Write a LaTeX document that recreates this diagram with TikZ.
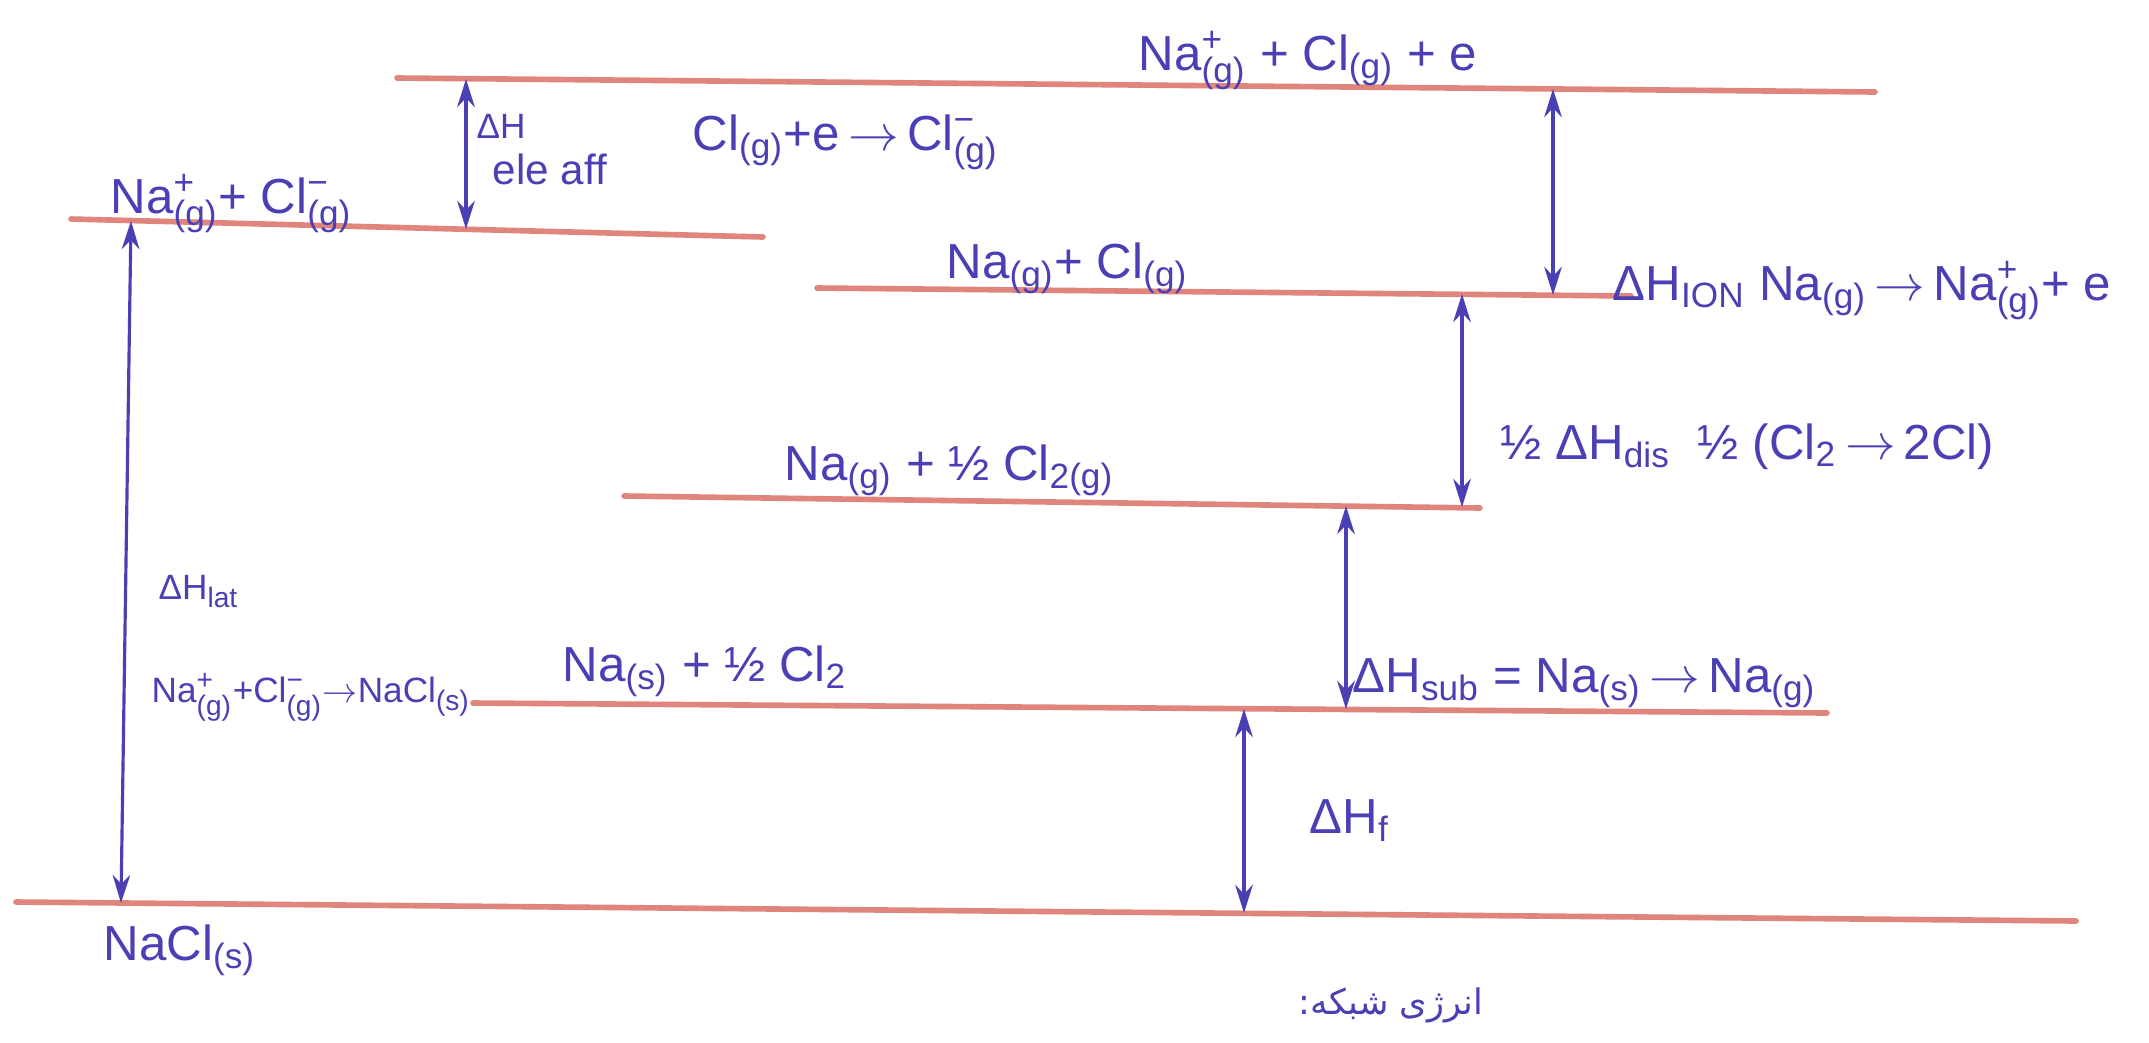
\documentclass[tikz,border=0pt]{standalone}
\usepackage{fontspec}
\setmainfont{Liberation Sans}
\newfontfamily\arabicfont[Script=Arabic]{DejaVu Sans}
\TeXXeTstate=1
\usetikzlibrary{arrows.meta}
\definecolor{ink}{HTML}{4B3FB5}
\definecolor{lvl}{HTML}{E0857C}
\newcommand\ion[2]{$^{\hbox{\fontsize{10}{10}\selectfont #1}}_{\hbox{\fontsize{10}{10}\selectfont #2}}$}
\newcommand\lo[1]{$_{\hbox{\fontsize{10}{10}\selectfont #1}}$}
\newcommand\sion[2]{$^{\hbox{\fontsize{8}{8}\selectfont #1}}_{\hbox{\fontsize{8}{8}\selectfont #2}}$}
\newcommand\slo[1]{$_{\hbox{\fontsize{8}{8}\selectfont #1}}$}
\newcommand\ra{\,$\rightarrow$\,}
\tikzset{
  level/.style={draw=lvl, line width=1.6pt, line cap=round},
  dh/.style={draw=ink, line width=0.9pt, {Stealth[length=8pt,width=5pt]}-{Stealth[length=8pt,width=5pt]}},
  lab/.style={text=ink, font=\fontsize{14}{16}\selectfont, inner sep=0pt, anchor=base west},
  slab/.style={text=ink, font=\fontsize{10}{12}\selectfont, inner sep=0pt, anchor=base west}
}
\begin{document}
\begin{tikzpicture}[x=0.01cm,y=-0.01cm]
\useasboundingbox (0,0) rectangle (2149,1042);
\fill[white] (0,0) rectangle (2149,1042);
% energy levels
\coordinate (A1) at (397,78);  \coordinate (A2) at (1875,92);
\coordinate (B1) at (71,219);  \coordinate (B2) at (763,237);
\coordinate (C1) at (817,288); \coordinate (C2) at (1631,296);
\coordinate (D1) at (624,496); \coordinate (D2) at (1480,508);
\coordinate (E1) at (473,703); \coordinate (E2) at (1827,713);
\coordinate (F1) at (16,902);  \coordinate (F2) at (2076,921);
\draw[level] (A1) -- (A2);
\draw[level] (B1) -- (B2);
\draw[level] (C1) -- (C2);
\draw[level] (D1) -- (D2);
\draw[level] (E1) -- (E2);
\draw[level] (F1) -- (F2);
% arrow end points
\coordinate (eaT) at (466,79);   \coordinate (eaB) at (466,229);
\coordinate (ioT) at (1553,89);  \coordinate (ioB) at (1553,295);
\coordinate (diT) at (1462,294); \coordinate (diB) at (1462,507);
\coordinate (suT) at (1346,506); \coordinate (suB) at (1346,709);
\coordinate (fT) at (1244,709);  \coordinate (fB) at (1244,913);
\coordinate (laT) at (131,221);  \coordinate (laB) at (121,903);
\draw[dh] (eaT) -- (eaB);
\draw[dh] (ioT) -- (ioB);
\draw[dh] (diT) -- (diB);
\draw[dh] (suT) -- (suB);
\draw[dh] (fT) -- (fB);
\draw[dh] (laT) -- (laB);
% labels
\node[lab] (lA) at (1138,70) {Na\ion{+}{(g)} + Cl\lo{(g)} + e};
\node[lab] (lB) at (110,213) {Na\ion{+}{(g)}+ Cl\ion{\textminus}{(g)}};
\node[slab] (lea) at (476,138) {ΔH};
\node[text=ink, font=\fontsize{12}{14}\selectfont, inner sep=0pt, anchor=base west] (leas) at (492,184) {ele aff};
\node[lab] (lear) at (692,150) {Cl\lo{(g)}+e\ra Cl\ion{\textminus}{(g)}};
\node[lab] (lC) at (946,278) {Na\lo{(g)}+ Cl\lo{(g)}};
\node[lab] (lio) at (1612,300) {ΔH\lo{ION}\;Na\lo{(g)}\ra Na\ion{+}{(g)}+ e};
\node[lab] (ldi) at (1500,459) {½ ΔH\lo{dis}\; ½ (Cl\lo{2}\ra 2Cl)};
\node[lab] (lD) at (784,480) {Na\lo{(g)} + ½ Cl\lo{2(g)}};
\node[slab] (lla) at (158,599) {ΔH\slo{lat}};
\node[slab] (llr) at (151,702) {Na\sion{+}{(g)}+Cl\sion{\textminus}{(g)}$\rightarrow$NaCl\slo{(s)}};
\node[lab] (lE) at (562,681) {Na\lo{(s)} + ½ Cl\lo{2}};
\node[lab] (lsu) at (1352,692) {ΔH\lo{sub} = Na\lo{(s)}\ra Na\lo{(g)}};
\node[lab] (lf) at (1309,833) {ΔH\lo{f}};
\node[lab] (lF) at (103,960) {NaCl\lo{(s)}};
\node[text=ink, font=\fontsize{10}{12}\arabicfont, inner sep=0pt] (lfa) at (1391,1005) {\beginR انرژی شبکه:\endR};
\end{tikzpicture}
\end{document}
